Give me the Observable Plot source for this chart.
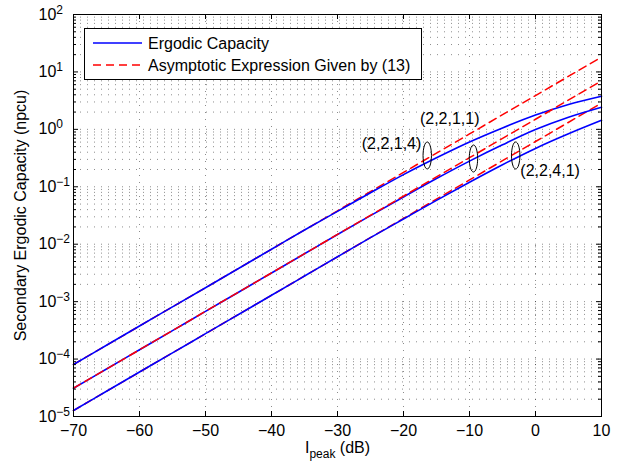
<!DOCTYPE html>
<html><head><meta charset="utf-8">
<script src="https://cdn.jsdelivr.net/npm/d3@7"></script>
<script src="https://cdn.jsdelivr.net/npm/@observablehq/plot@0.6"></script>
<style>body{margin:0;background:#fff;}</style>
</head><body><div id="chart"></div>
<script>
// ---- data ----
const ipeakDb = [-70,-65,-60,-55,-50,-45,-40,-35,-30,-25,-20,-15,-10,-5,0,5,10];
const capacity2214 = [8.05e-5,1.74e-4,3.76e-4,8.11e-4,1.75e-3,3.78e-3,8.18e-3,0.0177,0.0373,0.0787,0.163,0.320,0.603,1.059,1.774,2.716,3.784];
const capacity2211 = [3.11e-5,6.71e-5,1.45e-4,3.13e-4,6.78e-4,1.46e-3,3.16e-3,6.82e-3,0.0148,0.0315,0.0665,0.139,0.280,0.538,0.991,1.626,2.427];
const capacity2241 = [1.27e-5,2.75e-5,5.94e-5,1.28e-4,2.77e-4,5.98e-4,1.29e-3,2.79e-3,6.04e-3,0.0130,0.0275,0.0581,0.120,0.242,0.466,0.836,1.435];

const asymDb = [-70,-60,-50,-40,-30,-20,-10,0,10];
const asym2214 = [8.05e-5,3.76e-4,1.75e-3,8.18e-3,0.0382,0.178,0.832,3.88,18.1];
const asym2211 = [3.11e-5,1.45e-4,6.78e-4,3.16e-3,0.0148,0.0689,0.321,1.50,7.00];
const asym2241 = [1.27e-5,5.94e-5,2.77e-4,1.29e-3,6.04e-3,0.0282,0.1315,0.614,2.86];

const seriesNames = ["(2,2,1,4)","(2,2,1,1)","(2,2,4,1)"];

const xTicks = [-70,-60,-50,-40,-30,-20,-10,0,10];
const yDecades = [1e-5,1e-4,1e-3,1e-2,1e-1,1e0,1e1,1e2];
const minorMultipliers = [2,3,4,5,6,7,8,9];

const ellipseDb = [-16.4,-9.4,-3.0];
const ellipseCap = [0.351,0.311,0.351];

const labelText = ["(2,2,1,1)","(2,2,1,4)","(2,2,4,1)"];
const labelDb = [-13.0,-17.3,-2.3];
const labelCap = [1.55,0.568,0.192];
const labelAnchor = ["middle","end","start"];

const legendLabels = ["Ergodic Capacity","Asymptotic Expression Given by (13)"];
const xLabel = ["I","peak"," (dB)"];
const yLabel = "Secondary Ergodic Capacity (npcu)";

// ---- tables ----
const capSeries = [capacity2214, capacity2211, capacity2241];
const asymSeries = [asym2214, asym2211, asym2241];
const capRows = seriesNames.flatMap((s,i)=>ipeakDb.map((x,j)=>({x, y: capSeries[i][j], s})));
const asymRows = seriesNames.flatMap((s,i)=>asymDb.map((x,j)=>({x, y: asymSeries[i][j], s})));
const yMinor = yDecades.slice(0,-1).flatMap(d=>minorMultipliers.map(m=>m*d));
const ellipses = ellipseDb.map((x,i)=>({x, y: ellipseCap[i]}));
const labels = labelText.map((t,i)=>({t, x: labelDb[i], y: labelCap[i], a: labelAnchor[i]}));

const ellipseSymbol = {draw(ctx){ const rx=4.2, ry=13.5, k=0.5523;
  ctx.moveTo(rx,0);
  ctx.bezierCurveTo(rx,ry*k,rx*k,ry,0,ry);
  ctx.bezierCurveTo(-rx*k,ry,-rx,ry*k,-rx,0);
  ctx.bezierCurveTo(-rx,-ry*k,-rx*k,-ry,0,-ry);
  ctx.bezierCurveTo(rx*k,-ry,rx,-ry*k,rx,0);
  ctx.closePath(); }};

const grid = {stroke:"#000", strokeOpacity:0.45, strokeDasharray:"1,6"};
const font = "'Liberation Sans', Arial, Helvetica, sans-serif";
const redStyle = {x:"x", y:"y", z:"s", stroke:"#ff0000", strokeWidth:1.5, strokeDasharray:"8,5"};

const chart = Plot.plot({
  width: 624, height: 471,
  marginLeft: 73, marginRight: 23, marginTop: 14, marginBottom: 55,
  style: {fontFamily: font, fontSize: "16px", background: "#fff", color: "#000", overflow: "visible"},
  x: {domain: [-70, 10]},
  y: {type: "log", domain: [1e-5, 1e2]},
  marks: [
    Plot.ruleY(yMinor, grid),
    Plot.ruleY(yDecades.slice(1,-1), grid),
    Plot.ruleX(xTicks.slice(1,-1), grid),
    Plot.line(asymRows.filter(d=>d.s!==seriesNames[1]), redStyle),
    Plot.line(capRows, {x:"x", y:"y", z:"s", stroke:"#0000ff", strokeWidth:1.6, curve:"catmull-rom"}),
    Plot.line(asymRows.filter(d=>d.s===seriesNames[1]), redStyle),
    Plot.dot(ellipses, {x:"x", y:"y", symbol: ellipseSymbol, stroke:"#000", strokeWidth:1, fill:"none"}),
    ...["middle","end","start"].map(a => Plot.text(labels.filter(d=>d.a===a), {x:"x", y:"y", text:"t", textAnchor:a, fontSize:16, fill:"#000"})),
    Plot.frame({stroke:"#000"}),
    Plot.tickX(xTicks, {x:d=>d, insetTop:397, stroke:"#000"}),
    Plot.tickX(xTicks, {x:d=>d, insetBottom:397, stroke:"#000"}),
    Plot.tickY(yDecades, {y:d=>d, insetRight:523, stroke:"#000"}),
    Plot.tickY(yDecades, {y:d=>d, insetLeft:523, stroke:"#000"}),
    Plot.tickY(yMinor, {y:d=>d, insetRight:525, stroke:"#000"}),
    Plot.tickY(yMinor, {y:d=>d, insetLeft:525, stroke:"#000"}),
    Plot.axisX({ticks: xTicks, tickSize: 0, tickPadding: 8, label: null, fontSize: 16}),
    Plot.axisY({ticks: yDecades, tickSize: 0, tickPadding: 35, textAnchor: "start", label: null, fontSize: 16,
      tickFormat: d => "10^" + Math.round(Math.log10(d))}),
    Plot.text([yLabel], {frameAnchor:"left", textAnchor:"middle", dx:-53, rotate:-90, text:d=>d, fontSize:16, fill:"#000"}),
    Plot.text([xLabel.join("")], {frameAnchor:"bottom", textAnchor:"middle", dy:36, text:d=>d, fontSize:16, fill:"#000"})
  ]
});

const svg = d3.select(chart);
svg.selectAll('g[aria-label="y-axis tick label"] text').each(function(){
  const parts = this.textContent.split("^");
  const t = d3.select(this); t.text(null);
  t.append("tspan").text(parts[0]);
  t.append("tspan").attr("dy","-0.5em").attr("font-size","12px").text(parts[1].replace("-","\u2212"));
});
svg.selectAll("text").filter(function(){ return this.textContent === xLabel.join(""); }).each(function(){
  const t = d3.select(this); t.text(null);
  t.append("tspan").text(xLabel[0]);
  t.append("tspan").attr("dy","5").attr("font-size","12px").text(xLabel[1]);
  t.append("tspan").attr("dy","-5").text(xLabel[2]);
});

// legend box
const lg = svg.append("g").attr("font-family", font).attr("font-size", 16).attr("text-anchor","start");
lg.append("rect").attr("x",84.5).attr("y",28.5).attr("width",337).attr("height",51).attr("fill","#fff").attr("stroke","#000");
const legendStyles = [{stroke:"#0000ff", dash:null, w:1.6},{stroke:"#ff0000", dash:"8,5", w:1.5}];
legendLabels.forEach((lab,i)=>{
  const y = 43 + i*22;
  lg.append("line").attr("x1",93).attr("x2",142).attr("y1",y).attr("y2",y)
    .attr("stroke",legendStyles[i].stroke).attr("stroke-width",legendStyles[i].w).attr("stroke-dasharray",legendStyles[i].dash);
  lg.append("text").attr("x",148).attr("y",y).attr("dy","0.35em").attr("fill","#000").attr("text-anchor","start").text(lab);
});

document.getElementById("chart").appendChild(chart);
</script>
</body></html>
